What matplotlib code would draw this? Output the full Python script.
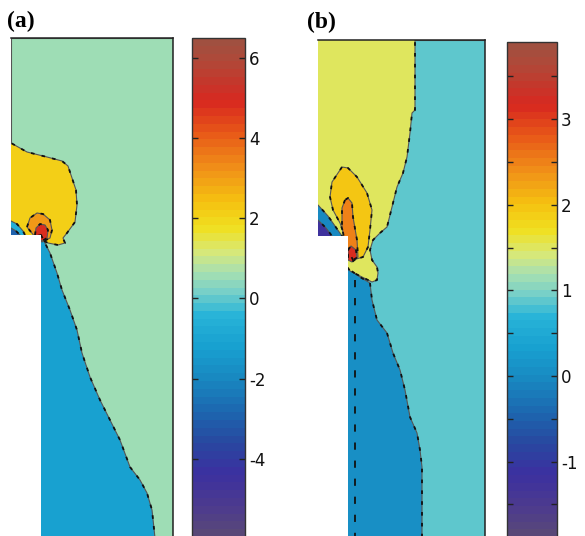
import matplotlib
matplotlib.use("Agg")
import matplotlib.pyplot as plt
from matplotlib.colors import LinearSegmentedColormap, Normalize
from matplotlib.collections import PolyCollection
from matplotlib.patches import Polygon

# ---------------- colormap ----------------
cmap_pos = [0.0, 0.048, 0.121, 0.185, 0.25, 0.315, 0.379, 0.444, 0.492, 0.532,
            0.573, 0.621, 0.677, 0.742, 0.815, 0.879, 0.96, 1.0]
cmap_hex = ['#584878', '#4e3c8c', '#3c30a0', '#2848a0', '#1c68b0', '#1888c0',
            '#18a0d0', '#28b4d8', '#78d0c8', '#a8e0b0', '#d8e878', '#f0e020',
            '#f5c010', '#f09018', '#e85818', '#d82820', '#b04838', '#a05040']

# ---------------- panel (a) data ----------------
a_range = (-5.95, 6.49)
a_ticks = [-4, -2, 0, 2, 4, 6]
a_tick_labels = ['-4', '-2', '0', '2', '4', '6']
a_domain = [(0, 0), (162, 0), (162, 500), (30, 500), (30, 197), (0, 197)]
a_blue = [(30, 197), (34, 205), (39, 215), (46, 235), (51, 252), (59, 272),
          (66, 292), (71, 315), (79, 339), (89, 362), (99, 382), (109, 402),
          (119, 429), (129, 442), (136, 455), (141, 472), (144, 500), (145, 512),
          (20, 512), (20, 200)]
a_yellow = [(-10, 105), (0, 105), (16, 114), (36, 119), (51, 123), (57, 128),
            (61, 140), (65, 152), (66, 167), (64, 184), (56, 195), (52, 200),
            (54, 205), (47, 207), (37, 205), (31, 202), (30, 197), (-10, 207)]
a_orange = [(16, 189), (19, 180), (26, 175), (32, 176), (39, 182), (41, 192),
            (39, 200), (31, 204), (24, 199)]
a_red = [(24, 197), (25, 190), (29, 186), (34, 187), (37, 192), (36, 200),
         (31, 203), (27, 200)]
a_wedge_outer = [(-5, 183), (0, 183), (6, 186), (12, 193), (14, 197), (16, 205), (-5, 205)]
a_wedge_inner = [(-5, 190), (0, 190), (5, 193), (9, 197), (11, 205), (-5, 205)]
a_values = [0.5, -1.2, 2.1, 3.0, 4.9, -0.6, -3.0]

# ---------------- panel (b) data ----------------
b_range = (-1.88, 3.90)
b_ticks = [-1.5, -1, -0.5, 0, 0.5, 1, 1.5, 2, 2.5, 3, 3.5]
b_tick_labels = ['', '-1', '', '0', '', '1', '', '2', '', '3', '']
b_domain = [(0, 0), (167, 0), (167, 500), (30, 500), (30, 196), (0, 196)]
b_blue = [(25, 225), (42, 237), (52, 243), (54, 260), (59, 280), (69, 293),
          (75, 313), (82, 330), (87, 350), (92, 377), (99, 393), (102, 410),
          (104, 427), (104, 500), (104, 512), (25, 512)]
b_yellow = [(-10, -10), (97, -10), (97, 70), (94, 73), (92, 93), (89, 117),
            (85, 133), (79, 147), (74, 167), (69, 187), (62, 193), (55, 200),
            (52, 210), (54, 220), (59, 227), (60, 233), (59, 240), (54, 242),
            (42, 236), (32, 231), (30, 228), (25, 228), (25, 205), (-10, 205)]
b_gold = [(24, 127), (14, 142), (12, 157), (15, 170), (22, 183), (27, 197),
          (30, 210), (35, 220), (45, 217), (50, 207), (52, 190), (54, 170),
          (49, 153), (39, 137), (30, 128)]
b_orange = [(27, 160), (24, 168), (24, 187), (27, 203), (30, 217), (35, 220),
            (40, 217), (39, 200), (35, 177), (34, 163), (30, 158)]
b_red = [(30, 210), (33, 206), (38, 210), (39, 218), (34, 222), (30, 220)]
b_wedge_outer = [(-5, 165), (0, 165), (10, 176), (17, 186), (24, 196), (26, 205), (-5, 205)]
b_wedge_inner = [(-5, 180), (0, 180), (8, 188), (14, 196), (16, 205), (-5, 205)]
b_values = [0.89, 0.03, 1.47, 1.93, 2.51, 3.15, 0.0, -1.2]
b_contour = [(37, 240), (37, 500)]

W_PX, H_PX = 585, 536
fig = plt.figure(figsize=(W_PX / 100, H_PX / 100), dpi=100)
fig.patch.set_facecolor('white')

cmap = LinearSegmentedColormap.from_list('fem', list(zip(cmap_pos, cmap_hex)), N=64)


def px_axes(left, right, top, bottom):
    return fig.add_axes([left / W_PX, (H_PX - bottom) / H_PX,
                         (right - left) / W_PX, (bottom - top) / H_PX])


def draw_panel(ax, cax, domain, polys, values, rng, ticks, labels, width, extra=None):
    norm = Normalize(vmin=rng[0], vmax=rng[1])
    clip = Polygon(domain, closed=True, transform=ax.transData, facecolor='none',
                   edgecolor='none')
    ax.add_patch(clip)
    pc = PolyCollection([domain] + polys, array=values, cmap=cmap, norm=norm,
                        edgecolors='#555555', linewidths=0.8)
    ax.add_collection(pc)
    pc.set_clip_path(clip)
    dash = PolyCollection(polys, facecolors='none', edgecolors='#111111',
                          linewidths=1.3, linestyles=[(0, (2.0, 4.0))])
    ax.add_collection(dash)
    dash.set_clip_path(clip)
    if extra is not None:
        xs, ys = zip(*extra)
        ax.plot(xs, ys, color='#111111', lw=1.3, ls=(0, (4.0, 6.0)))
    ax.set_xlim(0, width)
    ax.set_ylim(500, 0)
    ax.set_xticks([])
    ax.set_yticks([])
    for s in ['left', 'bottom']:
        ax.spines[s].set_visible(False)
    for s in ['top', 'right']:
        ax.spines[s].set_color('#222222')
        ax.spines[s].set_linewidth(1.1)
    cb = fig.colorbar(pc, cax=cax)
    cb.set_ticks(ticks)
    cb.set_ticklabels(labels)
    cb.outline.set_edgecolor('#333333')
    cb.outline.set_linewidth(1.0)
    cax.tick_params(axis='y', direction='in', length=4, width=1.0, left=True,
                    right=True, labelsize=12, pad=3, colors='#222222')
    for t in cax.get_yticklabels():
        t.set_family('DejaVu Sans')
        t.set_color('#111111')


ax_a = px_axes(11, 173, 38, 538)
cax_a = px_axes(192, 245, 38, 537)
draw_panel(ax_a, cax_a, a_domain,
           [a_blue, a_yellow, a_orange, a_red, a_wedge_outer, a_wedge_inner],
           a_values, a_range, a_ticks, a_tick_labels, 162)

ax_b = px_axes(318, 485, 40, 540)
cax_b = px_axes(507, 557, 42, 537)
draw_panel(ax_b, cax_b, b_domain,
           [b_blue, b_yellow, b_gold, b_orange, b_red, b_wedge_outer, b_wedge_inner],
           b_values, b_range, b_ticks, b_tick_labels, 167, extra=b_contour)

fig.text(7 / W_PX, 1 - 21 / H_PX, '(a)', fontsize=17, fontweight='bold',
         family='Liberation Serif', va='center', ha='left')
fig.text(307 / W_PX, 1 - 22 / H_PX, '(b)', fontsize=17, fontweight='bold',
         family='Liberation Serif', va='center', ha='left')

fig.savefig('out.png', dpi=100)
